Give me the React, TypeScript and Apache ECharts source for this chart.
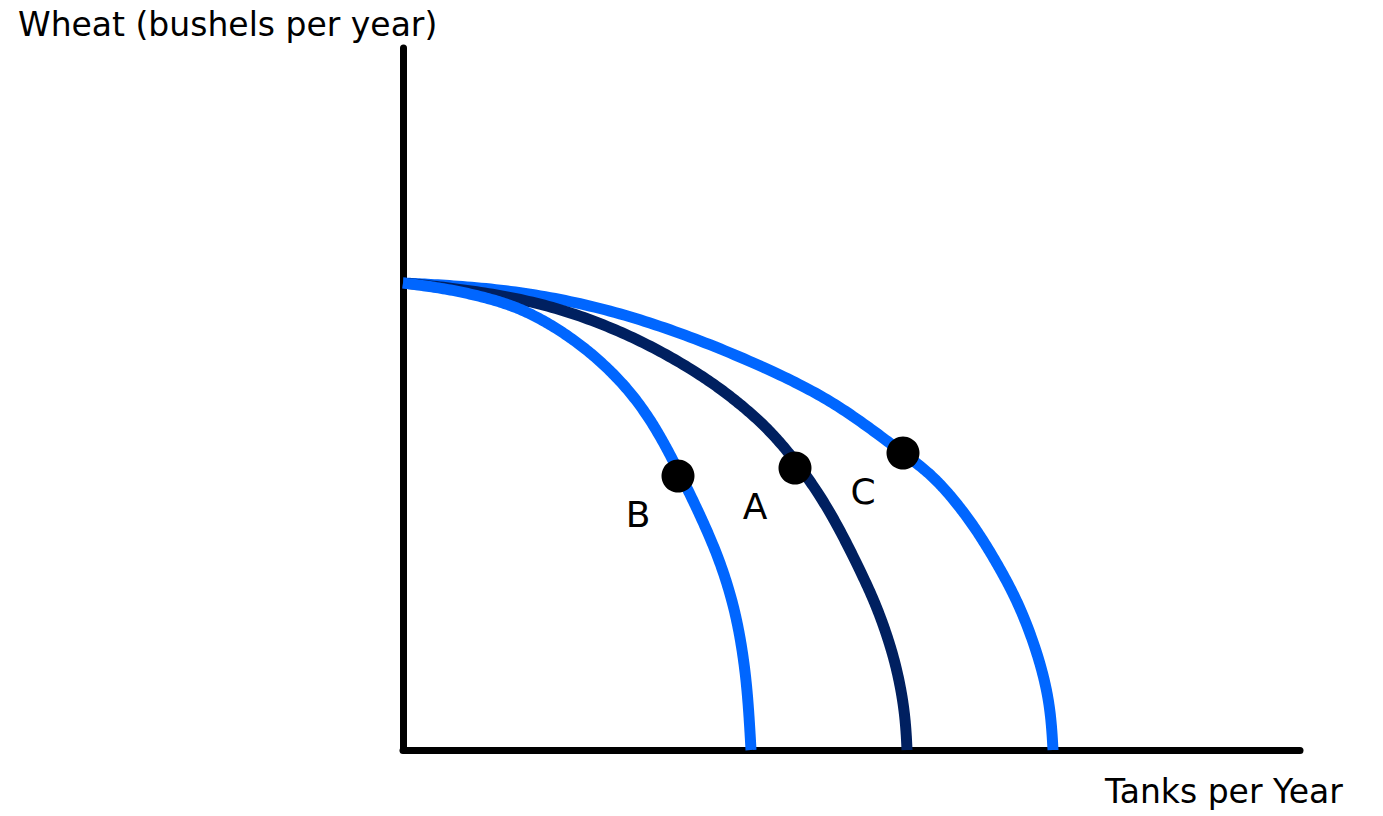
import React, { useEffect, useRef } from "react";
import * as echarts from "echarts";

// Axis extents (arbitrary units: tanks on x, wheat on y)
const xMax = 897;
const yMax = 702;

const yTitle = "Wheat (bushels per year)";
const xTitle = "Tanks per Year";

// Production possibility frontiers [tanks, wheat]
const curveB: [number, number][] = [
  [0, 467], [47, 461], [97, 449], [127, 437], [157, 420], [190, 396],
  [224, 363], [250, 327], [270, 290], [290, 250], [307, 213], [320, 180],
  [332, 140], [340, 97], [345, 53], [348, 0],
];
const curveA: [number, number][] = [
  [0, 467], [77, 459], [157, 443], [237, 411], [297, 376], [330, 352],
  [364, 323], [392, 290], [417, 255], [437, 220], [455, 184], [471, 150],
  [483, 118], [493, 85], [500, 50], [503, 22], [504, 0],
];
const curveC: [number, number][] = [
  [0, 467], [97, 462], [197, 444], [297, 411], [397, 367], [447, 337],
  [500, 297], [524, 279], [544, 259], [570, 226], [594, 187], [614, 150],
  [630, 110], [642, 70], [648, 35], [650, 0],
];

const pointNames = ["B", "A", "C"];
const pointValues: [number, number][] = [
  [275, 274],
  [392, 282],
  [500, 297],
];

const LIGHT = "#0066FF";
const DARK = "#002060";
const FONT = "DejaVu Sans";

type P = [number, number];

// Clamped uniform cubic B-spline through the pixel points (render-time smoothing)
function smoothPath(pts: P[], steps = 20): P[] {
  if (pts.length < 3) return pts;
  const first = pts[0];
  const last = pts[pts.length - 1];
  const ext: P[] = [first, first, ...pts, last, last];
  const out: P[] = [];
  for (let i = 0; i + 3 < ext.length; i++) {
    const p0 = ext[i], p1 = ext[i + 1], p2 = ext[i + 2], p3 = ext[i + 3];
    for (let s = i === 0 ? 0 : 1; s <= steps; s++) {
      const t = s / steps;
      const t2 = t * t;
      const t3 = t2 * t;
      const b0 = (1 - t) * (1 - t) * (1 - t) / 6;
      const b1 = (3 * t3 - 6 * t2 + 4) / 6;
      const b2 = (-3 * t3 + 3 * t2 + 3 * t + 1) / 6;
      const b3 = t3 / 6;
      out.push([
        b0 * p0[0] + b1 * p1[0] + b2 * p2[0] + b3 * p3[0],
        b0 * p0[1] + b1 * p1[1] + b2 * p2[1] + b3 * p3[1],
      ]);
    }
  }
  return out;
}

export default function App() {
  const ref = useRef<HTMLDivElement>(null);
  useEffect(() => {
    if (!ref.current) return;
    const chart = echarts.init(ref.current, undefined, { renderer: "svg" });
    const curveSeries = (name: string, data: P[], color: string) => ({
      type: "custom",
      name,
      coordinateSystem: "cartesian2d",
      data,
      clip: false,
      z: 3,
      renderItem: (params: any, api: any) => {
        if (params.dataIndex !== 0) return null;
        const px = data.map((d) => api.coord(d) as P);
        return {
          type: "polyline",
          shape: { points: smoothPath(px) },
          style: { stroke: color, lineWidth: 11, fill: null, lineJoin: "round" },
        };
      },
    });
    chart.setOption({
      animation: false,
      backgroundColor: "#ffffff",
      grid: { left: 403, top: 48, width: 897, height: 702 },
      xAxis: {
        type: "value",
        min: 0,
        max: xMax,
        axisLine: { show: true, lineStyle: { color: "#000", width: 7 } },
        axisTick: { show: false },
        axisLabel: { show: false },
        splitLine: { show: false },
      },
      yAxis: {
        type: "value",
        min: 0,
        max: yMax,
        axisLine: { show: true, lineStyle: { color: "#000", width: 7 } },
        axisTick: { show: false },
        axisLabel: { show: false },
        splitLine: { show: false },
      },
      series: [
        curveSeries("C", curveC, LIGHT),
        curveSeries("A", curveA, DARK),
        curveSeries("B", curveB, LIGHT),
        {
          type: "scatter",
          data: pointValues.map((v, i) => ({ value: v, name: pointNames[i] })),
          symbol: "circle",
          symbolSize: 33,
          itemStyle: { color: "#000", opacity: 1 },
          clip: false,
          z: 5,
          label: {
            show: true,
            position: "inside",
            offset: [-40, 38],
            formatter: (p: any) => p.name,
            color: "#000",
            opacity: 1,
            fontFamily: FONT,
            fontSize: 36,
          },
        },
      ],
      graphic: [
        {
          type: "text",
          x: 18,
          y: 24,
          style: {
            text: yTitle,
            font: `33px '${FONT}'`,
            fill: "#000",
            align: "left",
            verticalAlign: "middle",
          },
        },
        {
          type: "text",
          x: 1105,
          y: 791,
          style: {
            text: xTitle,
            font: `33px '${FONT}'`,
            fill: "#000",
            align: "left",
            verticalAlign: "middle",
          },
        },
      ],
    });
    return () => chart.dispose();
  }, []);
  return (
    <div
      ref={ref}
      style={{ position: "absolute", left: 0, top: 0, width: 1383, height: 816 }}
    />
  );
}
